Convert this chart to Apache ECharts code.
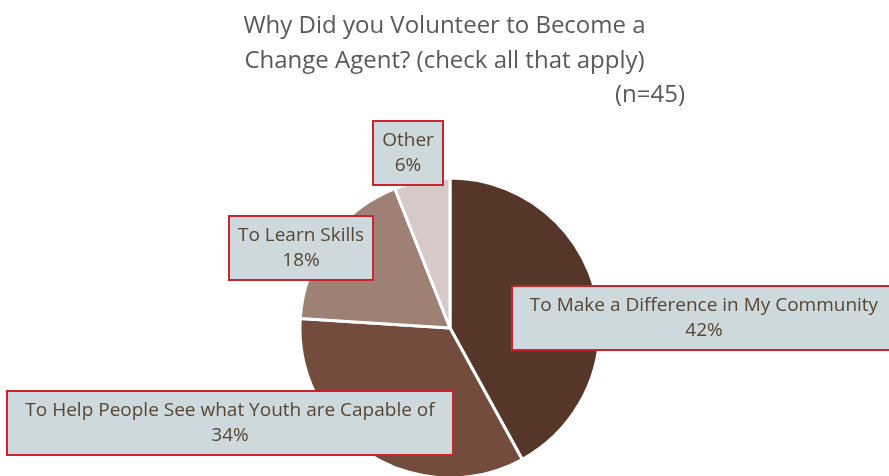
<!DOCTYPE html>
<html>
<head>
<meta charset="utf-8">
<script src="https://cdn.jsdelivr.net/npm/echarts@6/dist/echarts.min.js"></script>
<style>
  html, body { margin: 0; padding: 0; background: #fff; }
  #chart { width: 889px; height: 476px; }
</style>
</head>
<body>
<div id="chart"></div>
<script>
// 选项与占比 (n=45)
const categories = [
  'To Make a Difference in My Community',
  'To Help People See what Youth are Capable of',
  'To Learn Skills',
  'Other'
]
const percents = [42, 34, 18, 6]
const sliceColors = ['#553629', '#734c3e', '#9e8075', '#d5cac7']
// 标签框中心位置与内容宽度
const labelSpots = [[704, 318], [230, 423], [301, 248], [408, 153]]
const labelWidths = [364, 426, 124, 50]

const myChart = echarts.init(document.getElementById('chart'))
const option = {
  title: [
    {
      text: 'Why Did you Volunteer to Become a\nChange Agent? (check all that apply)',
      left: 'center',
      top: 4,
      textStyle: {
        fontFamily: 'Open Sans',
        fontSize: 24,
        fontWeight: 'normal',
        color: '#595959',
        lineHeight: 35
      }
    },
    {
      text: '(n=45)',
      right: 199,
      top: 78,
      textStyle: {
        fontFamily: 'Open Sans',
        fontSize: 24,
        fontWeight: 'normal',
        color: '#595959'
      }
    }
  ],
  series: [
    {
      type: 'pie',
      center: [450, 328],
      radius: 150,
      startAngle: 90,
      clockwise: true,
      silent: true,
      itemStyle: {
        borderColor: '#ffffff',
        borderWidth: 3
      },
      label: {
        show: true,
        position: 'outside',
        formatter: '{b}\n{d}%',
        fontFamily: 'Open Sans',
        fontSize: 19,
        lineHeight: 25,
        color: '#574634',
        align: 'center',
        overflow: 'none',
        backgroundColor: '#cdd9dd',
        borderColor: '#cc242b',
        borderWidth: 2,
        padding: [6, 9]
      },
      labelLine: { show: false },
      labelLayout: params => {
        const p = labelSpots[params.dataIndex]
        return { x: p[0], y: p[1], align: 'center', verticalAlign: 'middle' }
      },
      data: categories.map((name, i) => ({
        name: name,
        value: percents[i],
        itemStyle: { color: sliceColors[i] },
        label: { width: labelWidths[i] }
      }))
    }
  ]
}
myChart.setOption(option)
</script>
</body>
</html>
